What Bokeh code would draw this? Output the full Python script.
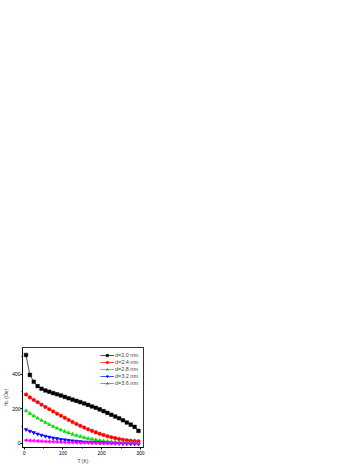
import math
from bokeh.plotting import figure
from bokeh.models import Legend, LegendItem, FixedTicker, Range1d
from bokeh.embed import file_html
from bokeh.resources import INLINE

T = [5, 15, 25, 35, 45, 55, 65, 75, 85, 95, 105, 115, 125, 135, 145,
     155, 165, 175, 185, 195, 205, 215, 225, 235, 245, 255, 265, 275, 285, 295]
hc_20 = [510, 395, 355, 330, 315, 305, 298, 290, 283, 276, 268, 260, 252, 245, 238,
         230, 222, 213, 205, 196, 186, 176, 165, 155, 145, 133, 120, 108, 95, 72]
hc_24 = [282, 265, 250, 237, 223, 210, 197, 184, 171, 159, 147, 135, 123, 112, 101,
         91, 81, 72, 63, 55, 48, 41, 35, 30, 25, 21, 18, 15, 13, 12]
hc_28 = [188, 172, 158, 145, 132, 120, 108, 97, 87, 77, 68, 60, 52, 45, 39,
         33, 28, 24, 20, 16, 13, 11, 9, 7, 6, 5, 4, 3, 3, 2]
hc_32 = [80, 70, 62, 54, 47, 41, 36, 31, 27, 23, 20, 17, 14, 12, 10,
         8, 7, 6, 5, 4, 3, 2, 1, 0, -1, -2, -2, -3, -3, -4]
hc_36 = [18, 16, 15, 13, 12, 11, 10, 9, 8, 7, 6, 5, 5, 4, 4,
         3, 3, 2, 2, 2, 1, 1, 1, 1, 1, 0, 0, 0, 0, 0]
labels = ["d=2.0 nm", "d=2.4 nm", "d=2.8 nm", "d=3.2 nm", "d=3.6 nm"]
colors = ["#000000", "#ff0000", "#00dd00", "#0000ff", "#ff00ff"]
markers = ["square", "circle", "triangle", "inverted_triangle", "triangle"]
angles = [0, 0, 0, 0, math.pi / 2]
x_ticks = [0, 100, 200, 300]
y_ticks = [0, 200, 400]

XMIN, XMAX = -4, 308
YMIN, YMAX = -24, 553
FL, FR, FT, FB = 20, 143, 347, 451  # frame edges on the canvas
W, H = 150, 466

p = figure(width=W, height=H, output_backend="svg", toolbar_location=None,
           x_range=Range1d(XMIN, XMAX), y_range=Range1d(YMIN, YMAX),
           min_border_left=FL, min_border_right=W - FR, min_border_top=FT,
           min_border_bottom=H - FB)
p.grid.visible = False
p.outline_line_color = "black"
p.outline_line_width = 0.8
p.background_fill_color = "white"
p.border_fill_color = "white"

for ax in (p.xaxis[0], p.yaxis[0]):
    ax.axis_line_width = 0.8
    ax.major_tick_in = 0
    ax.major_tick_out = 2
    ax.minor_tick_in = 0
    ax.minor_tick_out = 1
    ax.major_label_standoff = 1
    ax.major_label_text_font = "Liberation Sans"
    ax.major_label_text_font_size = "5px"
    ax.major_label_text_color = "black"
    ax.axis_label_text_font = "Liberation Sans"
    ax.axis_label_text_font_size = "5px"
    ax.axis_label_text_font_style = "normal"
    ax.axis_label_standoff = 0
p.xaxis.axis_label = "T (K)"
p.yaxis.axis_label = "Hc (Oe)"
p.yaxis.major_label_standoff = 0
p.xaxis.ticker = FixedTicker(ticks=x_ticks, minor_ticks=[50, 150, 250])
p.yaxis.ticker = FixedTicker(ticks=y_ticks, minor_ticks=[100, 300, 500])

series = [hc_20, hc_24, hc_28, hc_32, hc_36]
items = []
for ys, lab, c, m, a in zip(series, labels, colors, markers, angles):
    r1 = p.line(T, ys, line_color=c, line_width=0.7)
    r2 = p.scatter(T, ys, marker=m, size=3.6, angle=a, fill_color=c, line_color=c,
                   line_width=0.5)
    items.append(LegendItem(label=lab, renderers=[r1, r2]))

leg = Legend(items=items, location="top_right", border_line_color=None,
             background_fill_alpha=0, label_text_font="Liberation Sans",
             label_text_font_size="5.5px", glyph_width=14, glyph_height=6,
             label_height=6, spacing=1, padding=2, margin=5, label_standoff=1)
p.add_layout(leg, "center")

open("out.html", "w").write(file_html(p, INLINE))
